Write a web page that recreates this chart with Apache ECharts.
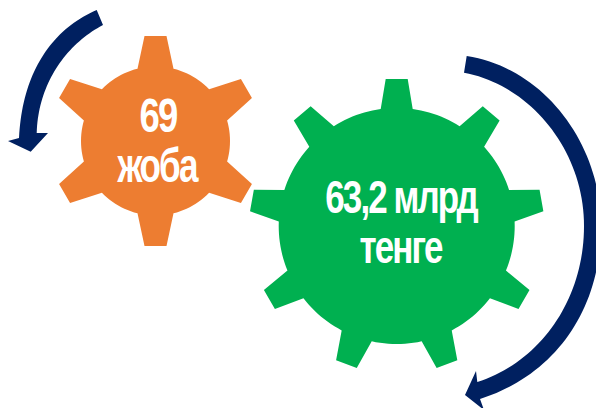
<!DOCTYPE html>
<html>
<head>
<meta charset="utf-8">
<style>
  html, body { margin: 0; padding: 0; background: #fff; }
  #chart { width: 596px; height: 408px; }
  /* tight, slightly overlapping headline lettering */
  svg text { letter-spacing: -2.5px; }
</style>
<script src="https://cdn.jsdelivr.net/npm/echarts@6/dist/echarts.min.js"></script>
</head>
<body>
<div id="chart"></div>
<script>
// Figures shown inside the two gears
const projectCount = 69;
const projectUnit = 'жоба';
const fundingAmount = 63.2;
const fundingUnit = 'млрд';
const fundingCurrency = 'тенге';

const ORANGE = '#ED7D31';
const GREEN = '#00B050';
const NAVY = '#002060';
const FONT = '"Liberation Sans", sans-serif';

const formatDecimal = v => String(v).replace('.', ',');

// Gear outline in axis units: teeth are trapezoids standing on a circular body
function gearOutline(g) {
  const pts = [];
  const baseHalf = Math.asin(g.baseHalfWidth / g.body);
  const step = 2 * Math.PI / g.teeth;
  for (let i = 0; i < g.teeth; i++) {
    const a = -Math.PI / 2 + i * step;
    const ux = Math.cos(a), uy = Math.sin(a);
    const vx = -uy, vy = ux;
    pts.push([g.cx + g.body * Math.cos(a - baseHalf), g.cy + g.body * Math.sin(a - baseHalf)]);
    pts.push([g.cx + g.tip * ux - g.tipHalfWidth * vx, g.cy + g.tip * uy - g.tipHalfWidth * vy]);
    pts.push([g.cx + g.tip * ux + g.tipHalfWidth * vx, g.cy + g.tip * uy + g.tipHalfWidth * vy]);
    pts.push([g.cx + g.body * Math.cos(a + baseHalf), g.cy + g.body * Math.sin(a + baseHalf)]);
    const from = a + baseHalf, to = a + step - baseHalf;
    for (let k = 1; k < 12; k++) {
      const t = from + (to - from) * k / 12;
      pts.push([g.cx + g.body * Math.cos(t), g.cy + g.body * Math.sin(t)]);
    }
  }
  return pts;
}

const gears = [
  { color: ORANGE, cx: 155.5, cy: 141, body: 74.5, tip: 105, teeth: 6, baseHalfWidth: 18, tipHalfWidth: 11 },
  { color: GREEN, cx: 396.7, cy: 226, body: 118, tip: 147, teeth: 9, baseHalfWidth: 16, tipHalfWidth: 11 }
];

// Curved arrows as commands: a start point, then cubic curves (C) and straight edges (L)
const arrows = [
  [[96.7, 10], ['C', 50, 30, 22, 75, 19, 138], ['L', 8, 141], ['L', 30.7, 151.7], ['L', 48, 133],
   ['L', 36.7, 133], ['C', 38, 85, 65, 45, 103, 25]],
  [[466.7, 56], ['C', 545, 68, 601, 145, 601, 226], ['C', 601, 310, 555, 375, 480, 399], ['L', 484, 410],
   ['L', 465, 395], ['L', 476, 371], ['L', 477.3, 382], ['C', 540, 362, 584, 300, 584, 226],
   ['C', 584, 150, 530, 85, 464, 72.7]]
];

// Flatten an arrow's commands into polygon vertices
function arrowOutline(cmds) {
  const pts = [cmds[0]];
  cmds.slice(1).forEach(c => {
    const p0 = pts[pts.length - 1];
    if (c[0] === 'L') {
      pts.push([c[1], c[2]]);
    } else {
      for (let k = 1; k <= 40; k++) {
        const t = k / 40, s = 1 - t;
        pts.push([
          s * s * s * p0[0] + 3 * s * s * t * c[1] + 3 * s * t * t * c[3] + t * t * t * c[5],
          s * s * s * p0[1] + 3 * s * s * t * c[2] + 3 * s * t * t * c[4] + t * t * t * c[6]
        ]);
      }
    }
  });
  return pts;
}

const labels = [
  { text: String(projectCount), x: 158, y: 115, size: 48, squeeze: 0.76 },
  { text: projectUnit, x: 157, y: 165, size: 48, squeeze: 0.73 },
  { text: formatDecimal(fundingAmount) + ' ' + fundingUnit, x: 401, y: 197, size: 46, squeeze: 0.76 },
  { text: fundingCurrency, x: 400.5, y: 247, size: 46, squeeze: 0.76 }
];

const chart = echarts.init(document.getElementById('chart'), null, { renderer: 'svg' });

chart.setOption({
  animation: false,
  backgroundColor: '#fff',
  grid: { left: 0, right: 0, top: 0, bottom: 0 },
  xAxis: { type: 'value', min: 0, max: 596, show: false },
  yAxis: { type: 'value', min: 0, max: 408, inverse: true, show: false },
  series: [
    {
      type: 'custom',
      coordinateSystem: 'cartesian2d',
      silent: true,
      data: gears.map((g, i) => [i]),
      renderItem(params, api) {
        const g = gears[api.value(0)];
        return {
          type: 'polygon',
          shape: { points: gearOutline(g).map(p => api.coord(p)) },
          style: { fill: g.color }
        };
      }
    },
    {
      type: 'custom',
      coordinateSystem: 'cartesian2d',
      silent: true,
      data: arrows.map((a, i) => [i]),
      renderItem(params, api) {
        return {
          type: 'polygon',
          shape: { points: arrowOutline(arrows[api.value(0)]).map(p => api.coord(p)) },
          style: { fill: NAVY }
        };
      }
    },
    {
      type: 'custom',
      coordinateSystem: 'cartesian2d',
      silent: true,
      data: labels.map((l, i) => [i]),
      renderItem(params, api) {
        const l = labels[api.value(0)];
        const c = api.coord([l.x, l.y]);
        return {
          type: 'text',
          x: c[0],
          y: c[1],
          scaleX: l.squeeze,
          style: {
            text: l.text,
            fill: '#fff',
            font: 'bold ' + l.size + 'px ' + FONT,
            textAlign: 'center',
            textVerticalAlign: 'middle'
          }
        };
      }
    }
  ]
});
</script>
</body>
</html>
